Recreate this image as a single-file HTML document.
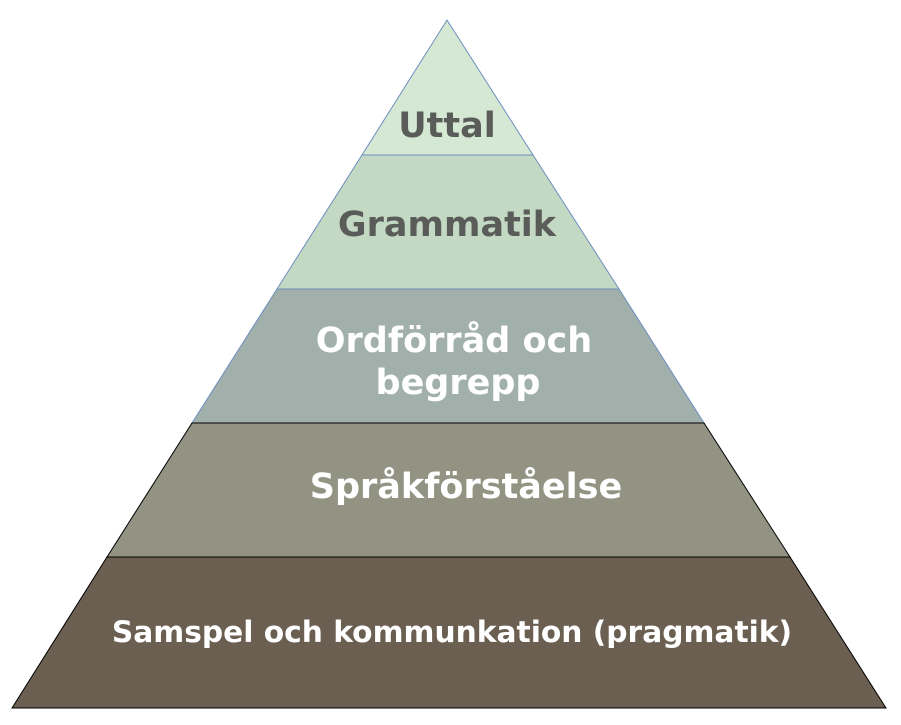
<!DOCTYPE html>
<html><head><meta charset="utf-8"><style>
html,body{margin:0;padding:0;background:#fff;}
svg{display:block;}
text{font-family:"DejaVu Sans","Liberation Sans",sans-serif;font-weight:bold;text-anchor:middle;}
</style></head><body>
<svg width="901" height="725" viewBox="0 0 901 725">
<polygon points="447,20 533,155 362,155" fill="#d5e8d4" stroke="#6c8ebf" stroke-width="1"/>
<polygon points="362,155 533,155 619,289 277,289" fill="#c4d9c3" stroke="#6c8ebf" stroke-width="1"/>
<polygon points="277,289 619,289 704,423 192,423" fill="#a2b0ab" stroke="#6c8ebf" stroke-width="1"/>
<polygon points="192,423 704,423 790,557 107,557" fill="#929382" stroke="#000" stroke-width="1"/>
<polygon points="107,557 790,557 886,708 12,708" fill="#6a5f51" stroke="#000" stroke-width="1"/>
<text x="447" y="137" font-size="35" fill="#595c59">Uttal</text>
<text x="447" y="236" font-size="35" fill="#595c59">Grammatik</text>
<text x="454" y="352" font-size="35" fill="#fff">Ordförråd och</text>
<text x="458" y="394" font-size="35" fill="#fff">begrepp</text>
<text x="466" y="498" font-size="35" fill="#fff">Språkförståelse</text>
<text x="452" y="642" font-size="29.7" fill="#fff">Samspel och kommunkation (pragmatik)</text>
</svg>
</body></html>
